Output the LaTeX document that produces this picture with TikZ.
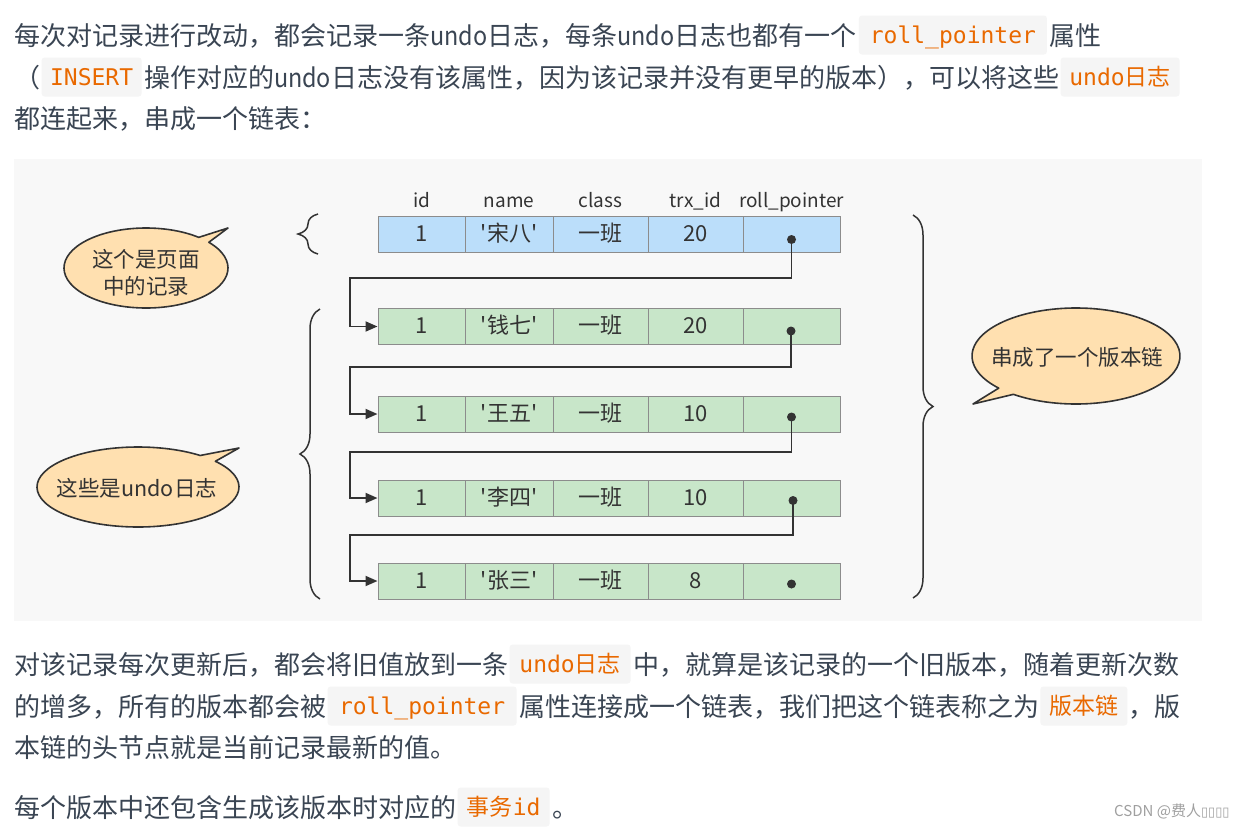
\documentclass[tikz,border=0pt]{standalone}
\usepackage{graphicx}
\usepackage{fontspec}
\setmainfont{Noto Sans CJK SC}[Ligatures=TeXOff]
\newfontfamily\codefont{DejaVu Sans Mono}
\newfontfamily\symfont{DejaVu Sans}
\usetikzlibrary{shapes.geometric,decorations.pathreplacing,arrows.meta,calc}
\newcommand\undoword{\scalebox{0.9}[1]{undo}}
\definecolor{bodytext}{HTML}{3A4553}
\definecolor{codeorange}{HTML}{E96900}
\definecolor{codebg}{HTML}{F5F5F5}
\definecolor{panelbg}{HTML}{F8F8F8}
\definecolor{rowblue}{HTML}{BBDEFA}
\definecolor{rowgreen}{HTML}{C8E6C9}
\definecolor{cellborder}{HTML}{8C8C8C}
\definecolor{ink}{HTML}{333333}
\definecolor{calloutfill}{HTML}{FFE0B0}
\definecolor{wmark}{HTML}{A0A0A0}
\newcommand\recrow[7]{%
  \node[cell,#3,minimum width=87pt] (#1a) at (421.5,#2) {#4};
  \node[cell,#3,minimum width=88pt] (#1b) at (509,#2) {#5};
  \node[cell,#3,minimum width=95pt] (#1c) at (600.5,#2) {#6};
  \node[cell,#3,minimum width=95pt] (#1e) at (695.5,#2) {#7};
  \node[cell,#3,minimum width=97pt] (#1f) at (791.5,#2) {};
}
\begin{document}
\begin{tikzpicture}[x=1pt,y=-1pt,
  bodyline/.style={anchor=base west, inner sep=0pt, text=bodytext, font=\fontsize{26}{26}\selectfont},
  codebox/.style={fill=codebg, rounded corners=3pt, text=codeorange, font=\fontsize{23}{23}\codefont,
    inner sep=0pt, minimum height=39pt, text height=19pt, text depth=3pt, anchor=west},
  cell/.style={draw=cellborder, line width=1pt, minimum height=36pt, inner sep=0pt, text=ink,
    font=\fontsize{22}{22}\selectfont, text height=17pt, text depth=3pt},
  hdr/.style={text=ink, font=\fontsize{19}{19}\selectfont, inner sep=0pt, anchor=base},
  ptr/.style={circle, fill=ink, inner sep=0pt, minimum size=9pt},
  link/.style={draw=ink, line width=1.8pt, -{Triangle[length=12pt,width=10pt]}},
  bracestyle/.style={draw=ink, line width=1.5pt, decorate, decoration={brace, amplitude=20pt}},
  callout/.style={draw=ink, line width=1.6pt, fill=calloutfill, line join=round},
  callouttext/.style={text=ink, font=\fontsize{21.5}{27}\selectfont, align=center, inner sep=0pt}
]
\useasboundingbox[fill=white] (0,0) rectangle (1243,828);

% ---------- top paragraph ----------
\node[bodyline] (l1a) at (14,45) {每次对记录进行改动，都会记录一条\undoword 日志，每条\undoword 日志也都有一个};
\node[codebox,minimum width=188pt,xshift=2pt] (c1) at (l1a.east |- 0,35) {roll\_pointer};
\node[bodyline,xshift=2pt] (l1b) at (c1.east |- 0,45) {属性};

\node[bodyline] (l2a) at (14,87) {（};
\node[codebox,minimum width=100pt,xshift=1pt] (c2) at (l2a.east |- 0,77) {INSERT};
\node[bodyline,xshift=2pt] (l2b) at (c2.east |- 0,87) {操作对应的\undoword 日志没有该属性，因为该记录并没有更早的版本），可以将这些};
\node[codebox,minimum width=119pt,xshift=1pt] (c3) at (l2b.east |- 0,77) {undo{\rmfamily 日志}};

\node[bodyline] (l3) at (14,128) {都连起来，串成一个链表：};

% ---------- diagram panel ----------
\fill[panelbg] (14,159) rectangle (1202,621);

\node[hdr] (h1) at (421.5,207) {id};
\node[hdr] (h2) at (509,207) {name};
\node[hdr] (h3) at (600.5,207) {class};
\node[hdr] (h4) at (695.5,207) {trx\_id};
\node[hdr] (h5) at (791.5,207) {roll\_pointer};

\recrow{r1}{234.5}{fill=rowblue}{1}{'宋八'}{一班}{20}
\recrow{r2}{326.5}{fill=rowgreen}{1}{'钱七'}{一班}{20}
\recrow{r3}{414}{fill=rowgreen}{1}{'王五'}{一班}{10}
\recrow{r4}{498}{fill=rowgreen}{1}{'李四'}{一班}{10}
\recrow{r5}{581}{fill=rowgreen}{1}{'张三'}{一班}{8}

\coordinate (p1) at (791.5,239.5);
\coordinate (p2) at (791,331);
\coordinate (p3) at (791.5,417);
\coordinate (p4) at (793,500.5);
\coordinate (p5) at (791.5,584);

\coordinate (k1) at (350,278);
\coordinate (k2) at (350,367);
\coordinate (k3) at (350,452);
\coordinate (k4) at (350,535);

\draw[link] (p1) |- (k1) |- (r2a.west);
\draw[link] (p2) |- (k2) |- (r3a.west);
\draw[link] (p3) |- (k3) |- (r4a.west);
\draw[link] (p4) |- (k4) |- (r5a.west);

\node[ptr] (d1) at (p1) {};
\node[ptr] (d2) at (p2) {};
\node[ptr] (d3) at (p3) {};
\node[ptr] (d4) at (p4) {};
\node[ptr] (d5) at (p5) {};

% braces
\draw[bracestyle] (318,254) -- (318,214);
\draw[bracestyle] (320,599) -- (320,309);
\draw[bracestyle] (913,215) -- (913,598);

% callouts
\coordinate (e1) at (146,268);
\coordinate (tip1) at (228,228);
\draw[callout] ($(e1)+(-50:82 and 40)$) -- (tip1) -- ($(e1)+(-40:82 and 40)$)
  arc[start angle=-40, end angle=310, x radius=82, y radius=40] -- cycle;
\node[callouttext] (t1) at (146,273) {这个是页面\\中的记录};

\coordinate (e2) at (138,487);
\coordinate (tip2) at (239,448);
\draw[callout] ($(e2)+(-52:101 and 40)$) -- (tip2) -- ($(e2)+(-40:101 and 40)$)
  arc[start angle=-40, end angle=308, x radius=101, y radius=40] -- cycle;
\node[callouttext] (t2) at (137,488) {这些是undo日志};

\coordinate (e3) at (1076,356);
\coordinate (tip3) at (973,404);
\draw[callout] ($(e3)+(138:104 and 48)$) -- (tip3) -- ($(e3)+(127:104 and 48)$)
  arc[start angle=127, end angle=-222, x radius=104, y radius=48] -- cycle;
\node[callouttext] (t3) at (1077,357) {串成了一个版本链};

% ---------- bottom paragraphs ----------
\node[bodyline] (l4a) at (14,674) {对该记录每次更新后，都会将旧值放到一条};
\node[codebox,minimum width=121pt,xshift=1pt] (c4) at (l4a.east |- 0,664) {undo{\rmfamily 日志}};
\node[bodyline,xshift=2pt] (l4b) at (c4.east |- 0,674) {中，就算是该记录的一个旧版本，随着更新次数};

\node[bodyline] (l5a) at (14,716) {的增多，所有的版本都会被};
\node[codebox,minimum width=189pt,xshift=1pt] (c5) at (l5a.east |- 0,706) {roll\_pointer};
\node[bodyline,xshift=2pt] (l5b) at (c5.east |- 0,716) {属性连接成一个链表，我们把这个链表称之为};
\node[codebox,minimum width=87pt,xshift=1pt] (c6) at (l5b.east |- 0,706) {\rmfamily 版本链};
\node[bodyline,xshift=1pt] (l5c) at (c6.east |- 0,716) {，版};

\node[bodyline] (l6) at (14,757) {本链的头节点就是当前记录最新的值。};

\node[bodyline] (l7a) at (14,817) {每个版本中还包含生成该版本时对应的};
\node[codebox,minimum width=92pt,xshift=1pt] (c7) at (l7a.east |- 0,807) {{\rmfamily 事务}id};
\node[bodyline,xshift=2pt] (l7b) at (c7.east |- 0,817) {。};

\node[anchor=base west, inner sep=0pt, text=wmark, font=\fontsize{15}{15}\selectfont] (wm) at (1114,816)
  {CSDN @费人{\symfont\fontsize{13}{13}\selectfont ▯▯▯▯}};
\end{tikzpicture}
\end{document}
